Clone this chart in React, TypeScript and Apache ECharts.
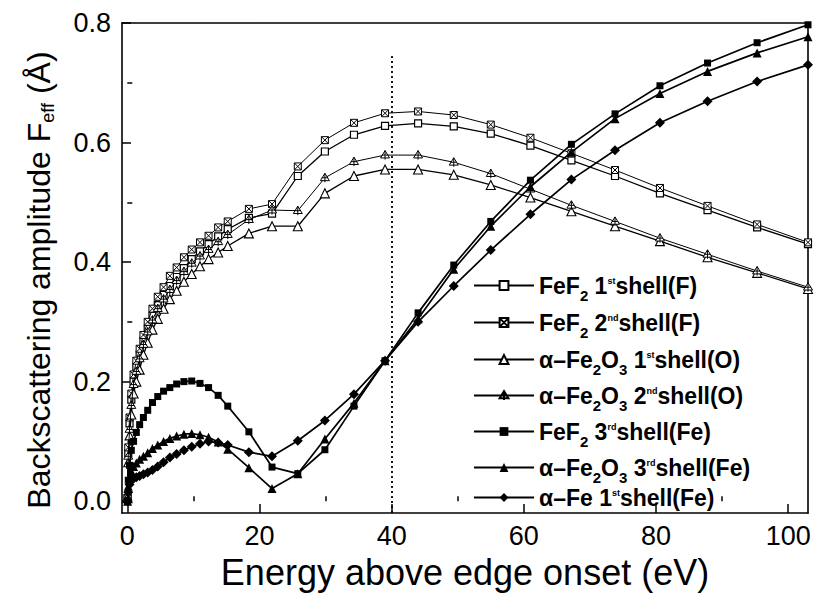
import React, { useEffect, useRef } from "react";
import * as echarts from "echarts";

// Energy grid (eV above the edge onset) shared by all calculated curves
const energies = [
  0.04, 0.15, 0.34, 0.61, 0.95, 1.37, 1.87, 2.44, 3.09, 3.81, 4.61, 5.49, 6.44,
  7.47, 8.57, 9.75, 11.0, 12.3, 13.75, 15.2, 18.4, 21.9, 25.8, 29.9, 34.3, 39.0,
  44.0, 49.4, 55.0, 61.0, 67.2, 73.8, 80.6, 87.8, 95.3, 103.0,
];

// Effective backscattering amplitudes F_eff (Å)
const feF2Shell1F = [
  0.005, 0.08, 0.13, 0.17, 0.2, 0.225, 0.245, 0.268, 0.288, 0.31, 0.328, 0.345,
  0.36, 0.375, 0.39, 0.405, 0.418, 0.43, 0.443, 0.455, 0.474, 0.481, 0.544,
  0.585, 0.613, 0.628, 0.632, 0.627, 0.615, 0.595, 0.57, 0.544, 0.515, 0.487,
  0.458, 0.43,
];
const feF2Shell2F = [
  0.005, 0.09, 0.14, 0.18, 0.212, 0.235, 0.255, 0.278, 0.3, 0.322, 0.342, 0.358,
  0.377, 0.391, 0.408, 0.421, 0.433, 0.444, 0.458, 0.468, 0.489, 0.497, 0.56,
  0.604, 0.633, 0.649, 0.652, 0.646, 0.63, 0.608, 0.582, 0.554, 0.524, 0.494,
  0.463, 0.433,
];
const fe2O3Shell1O = [
  0.005, 0.065, 0.11, 0.145, 0.18, 0.2, 0.22, 0.245, 0.265, 0.287, 0.305, 0.322,
  0.338, 0.352, 0.367, 0.38, 0.393, 0.405, 0.416, 0.427, 0.448, 0.46, 0.46,
  0.515, 0.544, 0.555, 0.555, 0.546, 0.529, 0.508, 0.485, 0.46, 0.435, 0.408,
  0.382, 0.355,
];
const fe2O3Shell2O = [
  0.005, 0.075, 0.12, 0.16, 0.195, 0.217, 0.238, 0.262, 0.283, 0.303, 0.322,
  0.338, 0.354, 0.369, 0.384, 0.398, 0.41, 0.421, 0.434, 0.446, 0.471, 0.487,
  0.486, 0.541, 0.568, 0.579, 0.579, 0.567, 0.548, 0.522, 0.495, 0.468, 0.44,
  0.413, 0.385, 0.358,
];
const feF2Shell3Fe = [
  0.0, 0.035, 0.06, 0.085, 0.1, 0.115, 0.128, 0.14, 0.152, 0.165, 0.175, 0.184,
  0.19, 0.196, 0.2, 0.201, 0.197, 0.19, 0.177, 0.159, 0.116, 0.057, 0.046,
  0.086, 0.159, 0.235, 0.315, 0.395, 0.468, 0.537, 0.597, 0.648, 0.695, 0.733,
  0.767, 0.797,
];
const fe2O3Shell3Fe = [
  0.0, 0.025, 0.04, 0.05, 0.058, 0.064, 0.07, 0.075, 0.081, 0.088, 0.094, 0.1,
  0.105, 0.109, 0.112, 0.113, 0.111, 0.107, 0.099, 0.087, 0.056, 0.021, 0.046,
  0.104, 0.164, 0.235, 0.305, 0.388, 0.46, 0.526, 0.584, 0.64, 0.682, 0.719,
  0.75, 0.777,
];
const alphaFeShell1Fe = [
  0.0, 0.015, 0.028, 0.035, 0.038, 0.04, 0.042, 0.045, 0.048, 0.052, 0.058,
  0.065, 0.073, 0.079, 0.085, 0.091, 0.096, 0.1, 0.098, 0.094, 0.082, 0.075,
  0.101, 0.135, 0.179, 0.235, 0.3, 0.36, 0.42, 0.48, 0.538, 0.587, 0.633, 0.669,
  0.702, 0.73,
];

const seriesNames = [
  "FeF2 1st shell(F)",
  "FeF2 2nd shell(F)",
  "α-Fe2O3 1st shell(O)",
  "α-Fe2O3 2nd shell(O)",
  "FeF2 3rd shell(Fe)",
  "α-Fe2O3 3rd shell(Fe)",
  "α-Fe 1st shell(Fe)",
];
const legendLabels = [
  "{n|FeF}{sub|2}{n| 1}{sup|st}{n|shell(F)}",
  "{n|FeF}{sub|2}{n| 2}{sup|nd}{n|shell(F)}",
  "{n|α–Fe}{sub|2}{n|O}{sub|3}{n| 1}{sup|st}{n|shell(O)}",
  "{n|α–Fe}{sub|2}{n|O}{sub|3}{n| 2}{sup|nd}{n|shell(O)}",
  "{n|FeF}{sub|2}{n| 3}{sup|rd}{n|shell(Fe)}",
  "{n|α–Fe}{sub|2}{n|O}{sub|3}{n| 3}{sup|rd}{n|shell(Fe)}",
  "{n|α–Fe 1}{sup|st}{n|shell(Fe)}",
];
const seriesValues = [
  feF2Shell1F,
  feF2Shell2F,
  fe2O3Shell1O,
  fe2O3Shell2O,
  feF2Shell3Fe,
  fe2O3Shell3Fe,
  alphaFeShell1Fe,
];

const xTickValues = [0, 20, 40, 60, 80, 100];
const xMinorValues = [10, 30, 50, 70, 90];
const yTickValues = [0, 0.2, 0.4, 0.6, 0.8];
const yMinorValues = [0.1, 0.3, 0.5, 0.7];
const edgeMarkerEnergy = 40;

const FONT = "Liberation Sans, Arial, Helvetica, sans-serif";
const BLACK = "#000";

const crossedSquare = "path://M0 0H10V10H0Z M0 0L10 10 M10 0L0 10";
const crossedTriangle = "path://M5 0L10 9H0Z M5 0V11 M1.5 5.5H8.5";

const markerStyles = [
  { symbol: "rect", size: 7, fill: "#fff", width: 1.2, lineWidth: 1.3 },
  { symbol: crossedSquare, size: 7, fill: "#fff", width: 1, lineWidth: 1 },
  { symbol: "triangle", size: 9, fill: "#fff", width: 1.1, lineWidth: 1.3 },
  { symbol: crossedTriangle, size: 9, fill: "#fff", width: 1, lineWidth: 1 },
  { symbol: "rect", size: 7, fill: BLACK, width: 0, lineWidth: 1.7 },
  { symbol: "triangle", size: 9, fill: BLACK, width: 0, lineWidth: 1.7 },
  { symbol: "diamond", size: 10, fill: BLACK, width: 0, lineWidth: 1.7 },
];

const legendRowCenters = [278, 315, 352, 388, 424, 460, 496];

export default function App() {
  const ref = useRef<HTMLDivElement>(null);

  useEffect(() => {
    if (!ref.current) return;
    const chart = echarts.init(ref.current, undefined, { renderer: "svg" });

    const xMin = -0.8;
    const xMax = 103;
    const yMin = -0.02;
    const yMax = 0.8;

    const series: any[] = seriesNames.map((name, i) => {
      const m = markerStyles[i];
      const s: any = {
        name,
        type: "line",
        xAxisIndex: 0,
        yAxisIndex: 0,
        data: energies.map((e, k) => [e, seriesValues[i][k]]),
        symbol: m.symbol,
        symbolSize: m.size,
        showAllSymbol: true,
        clip: true,
        lineStyle: { color: BLACK, width: m.lineWidth },
        itemStyle: {
          color: m.fill,
          borderColor: BLACK,
          borderWidth: m.width,
        },
        emphasis: { disabled: true },
        z: 3 + i,
      };
      if (i === 0) {
        s.markLine = {
          silent: true,
          symbol: ["none", "none"],
          label: { show: false },
          lineStyle: { color: BLACK, type: [2, 3], width: 1.8 },
          data: [
            [
              { coord: [edgeMarkerEnergy, yMin] },
              { coord: [edgeMarkerEnergy, 0.745] },
            ],
          ],
        };
      }
      return s;
    });

    // Sub/superscripts: a small fixed lineHeight keeps the row height, and the
    // padding shifts the glyphs down (top padding) or up (bottom padding).
    const legendRich = {
      n: {
        fontSize: 23,
        fontWeight: "bold",
        fontFamily: FONT,
        color: BLACK,
        lineHeight: 30,
      },
      sub: {
        fontSize: 15,
        fontWeight: "bold",
        fontFamily: FONT,
        color: BLACK,
        lineHeight: 10,
        padding: [20, 0, 0, 0],
      },
      sup: {
        fontSize: 9,
        fontWeight: "bold",
        fontFamily: FONT,
        color: BLACK,
        lineHeight: 8,
        padding: [0, 0, 10, 0],
      },
    };

    const legends = seriesNames.map((name, i) => ({
      data: [name],
      orient: "vertical",
      left: 468,
      top: legendRowCenters[i] - 15,
      itemWidth: 60,
      itemHeight: 11,
      selectedMode: false,
      formatter: () => legendLabels[i],
      textStyle: { rich: legendRich },
    }));

    const axisLabelStyle = {
      fontSize: 27,
      color: BLACK,
      fontFamily: FONT,
    };

    chart.setOption({
      animation: false,
      backgroundColor: "#fff",
      grid: { left: 122, right: 7, top: 23, bottom: 73, containLabel: false },
      legend: legends,
      xAxis: [
        {
          type: "value",
          min: xMin,
          max: xMax,
          position: "bottom",
          axisLine: { show: true, onZero: false, lineStyle: { color: BLACK, width: 1.6 } },
          axisTick: {
            show: true,
            inside: true,
            length: 9,
            customValues: xTickValues,
            lineStyle: { color: BLACK, width: 1.5 },
          },
          axisLabel: {
            show: true,
            customValues: xTickValues,
            formatter: (v: number) => String(v),
            margin: 9,
            ...axisLabelStyle,
          },
          splitLine: { show: false },
          name: "Energy above edge onset (eV)",
          nameLocation: "middle",
          nameGap: 36,
          nameTextStyle: { fontSize: 36, color: BLACK, fontFamily: FONT },
        },
        {
          type: "value",
          min: xMin,
          max: xMax,
          position: "bottom",
          axisLine: { show: false },
          axisTick: {
            show: true,
            inside: true,
            length: 5,
            customValues: xMinorValues,
            lineStyle: { color: BLACK, width: 1.5 },
          },
          axisLabel: { show: false },
          splitLine: { show: false },
        },
        {
          type: "value",
          min: xMin,
          max: xMax,
          position: "top",
          axisLine: { show: true, onZero: false, lineStyle: { color: BLACK, width: 1.6 } },
          axisTick: { show: false },
          axisLabel: { show: false },
          splitLine: { show: false },
        },
      ],
      yAxis: [
        {
          type: "value",
          min: yMin,
          max: yMax,
          position: "left",
          axisLine: { show: true, onZero: false, lineStyle: { color: BLACK, width: 1.6 } },
          axisTick: {
            show: true,
            inside: true,
            length: 9,
            customValues: yTickValues,
            lineStyle: { color: BLACK, width: 1.5 },
          },
          axisLabel: {
            show: true,
            customValues: yTickValues,
            formatter: (v: number) => v.toFixed(1),
            margin: 11,
            ...axisLabelStyle,
          },
          splitLine: { show: false },
          name: "{t|Backscattering amplitude F}{s|eff}{t| (Å)}",
          nameLocation: "middle",
          nameGap: 64,
          nameTextStyle: {
            padding: [0, 24, 0, 0],
            rich: {
              t: { fontSize: 32, color: BLACK, fontFamily: FONT, lineHeight: 38 },
              s: {
                fontSize: 18,
                color: BLACK,
                fontFamily: FONT,
                lineHeight: 10,
                padding: [18, 0, 0, 0],
              },
            },
          },
        },
        {
          type: "value",
          min: yMin,
          max: yMax,
          position: "left",
          axisLine: { show: false },
          axisTick: {
            show: true,
            inside: true,
            length: 5,
            customValues: yMinorValues,
            lineStyle: { color: BLACK, width: 1.5 },
          },
          axisLabel: { show: false },
          splitLine: { show: false },
        },
        {
          type: "value",
          min: yMin,
          max: yMax,
          position: "right",
          axisLine: { show: true, onZero: false, lineStyle: { color: BLACK, width: 1.6 } },
          axisTick: { show: false },
          axisLabel: { show: false },
          splitLine: { show: false },
        },
      ],
      series,
    });

    return () => chart.dispose();
  }, []);

  return (
    <div
      ref={ref}
      style={{ position: "fixed", left: 0, top: 0, width: 815, height: 595, background: "#fff" }}
    />
  );
}
